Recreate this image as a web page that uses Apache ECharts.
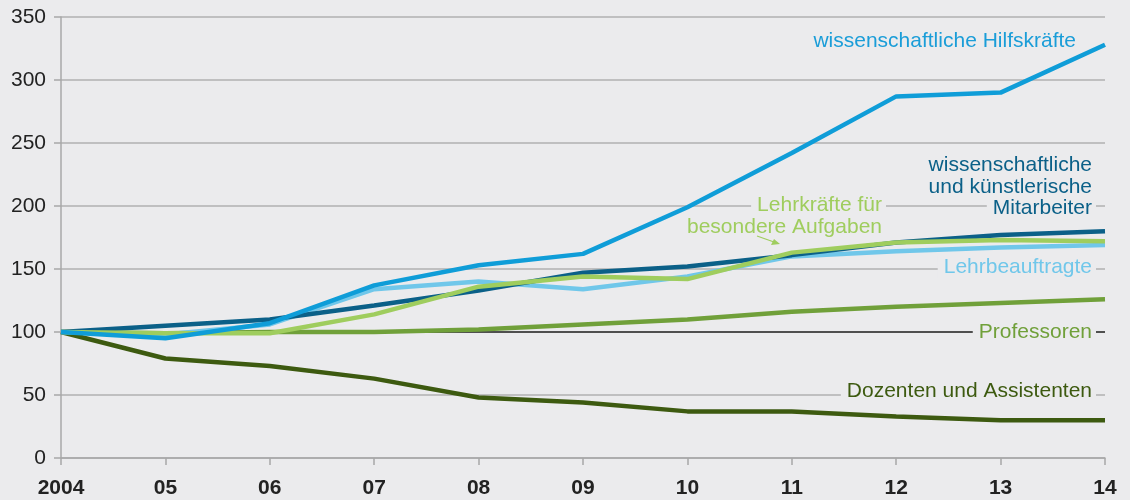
<!DOCTYPE html>
<html>
<head>
<meta charset="utf-8">
<script src="https://cdn.jsdelivr.net/npm/echarts@6/dist/echarts.min.js"></script>
<style>
  html, body { margin: 0; padding: 0; background: #ebebed; }
  #chart { width: 1130px; height: 500px; }
</style>
</head>
<body>
<div id="chart"></div>
<script>
var years = ['2004', '05', '06', '07', '08', '09', '10', '11', '12', '13', '14']

var dozenten = [100, 79, 73, 63, 48, 44, 37, 37, 33, 30, 30]
var professoren = [100, 99, 100, 100, 102, 106, 110, 116, 120, 123, 126]
var lehrbeauftragte = [100, 98, 106, 134, 140, 134, 144, 160, 164, 167, 169]
var lehrkraefte = [100, 99, 99, 114, 136, 144, 142, 163, 171, 173, 172]
var mitarbeiter = [100, 105, 110, 121, 133, 147, 152, 161, 171, 177, 180]
var hilfskraefte = [100, 95, 107, 137, 153, 162, 199, 242, 287, 290, 328]

var bg = '#ebebed'
var font = 'Liberation Sans, Arial, sans-serif'

var chart = echarts.init(document.getElementById('chart'))

function line(name, data, color, z) {
    return {
        name: name,
        type: 'line',
        data: data,
        symbol: 'none',
        z: z,
        lineStyle: { color: color, width: 4.5 },
        emphasis: { disabled: true }
    }
}

// text label; withBg hides the gridline behind the text
function label(text, x, y, color, withBg) {
    return {
        type: 'text',
        z: 100,
        style: {
            text: text,
            x: x,
            y: y,
            fill: color,
            font: '21px ' + font,
            align: 'right',
            verticalAlign: 'middle',
            backgroundColor: withBg ? bg : 'transparent',
            padding: [0, 4, 0, 6],
            lineHeight: 22
        }
    }
}

var series = [
    line('Dozenten und Assistenten', dozenten, '#3d5a10', 2),
    line('Professoren', professoren, '#70a03a', 3),
    line('Lehrbeauftragte', lehrbeauftragte, '#70c7ea', 4),
    line('wissenschaftliche und künstlerische Mitarbeiter', mitarbeiter, '#0b6088', 5),
    line('Lehrkräfte für besondere Aufgaben', lehrkraefte, '#9fcd5e', 6),
    line('wissenschaftliche Hilfskräfte', hilfskraefte, '#0f9dd8', 7)
]

// reference line at 100
series[1].markLine = {
    silent: true,
    symbol: 'none',
    label: { show: false },
    lineStyle: { color: '#2a2a2a', width: 1.5, type: 'solid' },
    data: [{ yAxis: 100 }],
    z: 1
}

chart.setOption({
    backgroundColor: bg,
    animation: false,
    textStyle: { fontFamily: font },
    grid: { left: 61, right: 25, top: 17, bottom: 42 },
    xAxis: {
        type: 'category',
        data: years,
        boundaryGap: false,
        axisLine: { lineStyle: { color: '#a8a8a8', width: 1.5 } },
        axisTick: { show: true, length: 7, lineStyle: { color: '#a8a8a8', width: 1.5 } },
        axisLabel: { color: '#222', fontSize: 21, fontWeight: 'bold', margin: 20 },
        splitLine: { show: false }
    },
    yAxis: {
        type: 'value',
        min: 0,
        max: 350,
        interval: 50,
        axisLine: { show: true, lineStyle: { color: '#a8a8a8', width: 1.5 } },
        axisTick: { show: true, length: 7, lineStyle: { color: '#a8a8a8', width: 1.5 } },
        axisLabel: { color: '#222', fontSize: 21, margin: 15 },
        splitLine: { lineStyle: { color: '#b0b0b0', width: 1.5 } }
    },
    series: series,
    graphic: [
        label('wissenschaftliche Hilfskräfte', 1080, 41, '#1a9dd8', false),
        label('wissenschaftliche\nund künstlerische', 1096, 176, '#0b6088', false),
        label('Mitarbeiter', 1096, 208, '#0b6088', true),
        label('Lehrkräfte für', 886, 205, '#9fcd5e', true),
        label('besondere Aufgaben', 886, 227, '#9fcd5e', false),
        label('Lehrbeauftragte', 1096, 267, '#70c7ea', true),
        label('Professoren', 1096, 332, '#70a03a', true),
        label('Dozenten und Assistenten', 1096, 391, '#3d5a10', true),
        {
            type: 'line', z: 100,
            shape: { x1: 757, y1: 236, x2: 774, y2: 242 },
            style: { stroke: '#9fcd5e', lineWidth: 1.2 }
        },
        {
            type: 'polygon', z: 100,
            shape: { points: [[780, 244], [771, 245], [774, 239]] },
            style: { fill: '#9fcd5e' }
        }
    ]
})
</script>
</body>
</html>
